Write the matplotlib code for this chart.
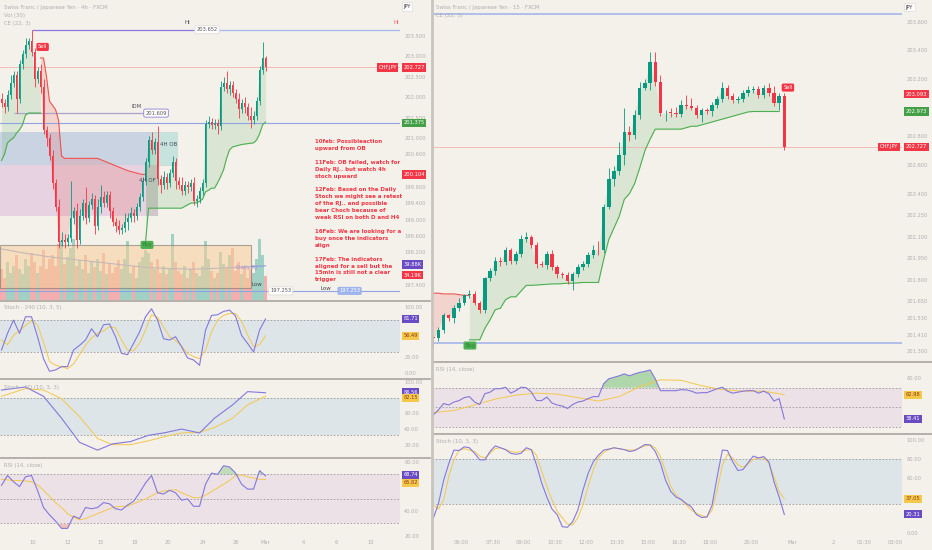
import numpy as np
import matplotlib
matplotlib.use("Agg")
import matplotlib.pyplot as plt
from matplotlib.patches import Rectangle
from matplotlib.lines import Line2D

# ---------------- data: left chart, CHFJPY 4h ----------------
l_first_open = 201.95
l_close = [201.85, 201.75, 202.05, 202.35, 202.55, 201.95, 202.80, 203.05, 203.28, 203.38,
           203.10, 202.45, 202.65, 202.25, 201.20, 201.00, 200.55, 199.90, 199.30, 198.45,
           198.50, 198.45, 198.55, 199.05, 199.20, 198.50, 199.10, 199.40, 199.05, 199.35,
           199.50, 198.85, 199.30, 199.55, 199.40, 199.60, 199.20, 198.95, 198.85, 198.75,
           198.80, 198.95, 199.05, 199.15, 199.10, 199.30, 199.55, 199.95, 200.40, 200.95,
           200.70, 200.90, 200.00, 199.85, 200.05, 199.90, 200.15, 200.40, 199.95, 199.85,
           199.70, 199.85, 199.80, 199.90, 199.45, 199.50, 199.70, 199.90, 201.35, 201.40,
           201.32, 201.36, 201.30, 202.25, 202.35, 202.20, 202.30, 202.10, 201.95, 201.70,
           201.85, 201.75, 201.55, 201.45, 201.55, 201.90, 202.67, 202.96, 202.73]
l_wick_up = [0.15, 0.10, 0.12, 0.20, 0.10, 0.10, 0.10, 0.10, 0.17, 0.07,
             0.27, 0.10, 0.10, 0.15, 0.20, 0.10, 0.10, 0.15, 0.10, 0.20,
             0.20, 0.15, 0.10, 0.90, 0.10, 0.20, 0.15, 0.10, 0.40, 0.10,
             0.15, 0.10, 0.20, 0.30, 0.15, 0.10, 0.10, 0.10, 0.10, 0.15,
             0.10, 0.20, 0.10, 0.15, 0.10, 0.10, 0.10, 0.10, 0.10, 0.10,
             0.20, 0.10, 0.40, 0.10, 0.15, 0.10, 0.10, 0.15, 0.10, 0.10,
             0.20, 0.10, 0.10, 0.10, 0.15, 0.10, 0.10, 0.10, 0.10, 0.15,
             0.10, 0.10, 0.10, 0.15, 0.15, 0.30, 0.10, 0.10, 0.10, 0.15,
             0.10, 0.15, 0.10, 0.20, 0.10, 0.10, 0.10, 0.40, 0.05]
l_wick_dn = [0.10, 0.15, 0.10, 0.10, 0.10, 0.34, 0.10, 0.10, 0.10, 0.10,
             0.10, 0.20, 0.10, 0.15, 0.10, 0.20, 0.10, 0.15, 0.10, 0.15,
             0.10, 0.15, 0.10, 0.10, 0.15, 0.20, 0.10, 0.10, 0.15, 0.10,
             0.10, 0.20, 0.10, 0.15, 0.10, 0.10, 0.15, 0.10, 0.15, 0.10,
             0.10, 0.10, 0.20, 0.10, 0.15, 0.10, 0.10, 0.10, 0.10, 0.10,
             0.10, 0.10, 0.15, 0.20, 0.10, 0.15, 0.10, 0.10, 0.20, 0.10,
             0.10, 0.10, 0.15, 0.10, 0.10, 0.15, 0.10, 0.10, 0.10, 0.10,
             0.10, 0.10, 0.20, 0.10, 0.10, 0.10, 0.15, 0.10, 0.10, 0.20,
             0.10, 0.15, 0.10, 0.20, 0.10, 0.10, 0.10, 0.10, 0.10]
l_volume = [38, 33, 42, 36, 40, 46, 38, 35, 44, 40,
            47, 42, 36, 40, 49, 38, 44, 46, 40, 52,
            54, 41, 45, 50, 55, 40, 43, 38, 46, 36,
            42, 39, 44, 37, 47, 35, 41, 36, 39, 43,
            38, 44, 54, 36, 40, 33, 42, 45, 49, 47,
            42, 38, 44, 36, 40, 35, 38, 58, 42, 37,
            35, 40, 33, 38, 42, 36, 34, 40, 54, 44,
            37, 33, 36, 48, 41, 39, 46, 50, 37, 42,
            35, 40, 33, 38, 36, 44, 55, 46, 34.19]
l_volma_x = [0, 8, 16, 24, 32, 40, 48, 56, 64, 72, 80, 88]
l_volma = [49.5, 47, 45, 43.5, 42, 40.5, 39, 38.3, 38, 38.5, 39.2, 39.88]

# chandelier exit stops
l_long1 = [200.45, 200.6, 200.88, 200.95, 201.0, 201.12, 201.2, 201.32, 201.56, 201.61,
           201.61, 201.61, 201.61, 201.61]                         # bars 0..13
l_short = [202.96, 202.96, 202.5, 201.9, 201.8, 201.7, 201.44, 200.56, 200.5,
           200.5, 200.5, 200.5, 200.5, 200.5, 200.5, 200.5, 200.5, 200.5, 200.5, 200.5,
           200.47, 200.44, 200.41, 200.38, 200.35, 200.32, 200.29, 200.26, 200.23, 200.2,
           200.18, 200.16, 200.14, 200.12, 200.11, 200.10]           # bars 13..48
l_long2 = [198.45, 199.28, 199.28, 199.28, 199.28, 199.28, 199.28, 199.28, 199.28, 199.28,
           199.28, 199.28, 199.28, 199.32, 199.36, 199.4, 199.41, 199.41, 199.45, 199.5,
           199.68, 199.72, 199.77, 199.77, 199.9, 200.05, 200.22, 200.5, 200.71, 200.78,
           200.8, 200.82, 200.84, 200.85, 200.86, 200.87, 200.88, 200.95, 201.1, 201.32,
           201.39]                                                   # bars 48..88

# indicators, sampled every 2 bars
l_ind_x = list(range(0, 89, 2))
l_stoch4h_k = [35, 60, 80, 60, 85, 85, 55, 22, 3, 5, 10, 10, 35, 42, 50, 67, 55, 73, 74, 55,
               30, 28, 45, 62, 85, 97, 80, 52, 50, 55, 40, 23, 20, 12, 65, 87, 88, 93, 95, 86,
               57, 45, 32, 65, 81.71]
l_stoch4h_d = [50, 43, 57, 64, 72, 79, 73, 47, 18, 12, 10, 7, 14, 28, 42, 53, 60, 64, 70, 68,
               50, 35, 34, 45, 65, 88, 84, 70, 55, 49, 41, 30, 25, 22, 35, 62, 80, 87, 90, 90,
               78, 58, 40, 43, 56.49]
l_rsi = [61, 69, 64, 60, 68, 69, 57, 43, 37, 32, 26, 26, 36, 34, 43, 42, 43, 47, 46, 42,
         41, 45, 48, 55, 63, 69, 55, 54, 57, 55, 49, 50, 44, 44, 62, 71, 70, 77, 76, 71,
         62, 58, 58, 73, 68.74]
l_rsi_ma = [66, 65.5, 65, 65, 64.6, 64, 61.5, 57, 52, 47, 43, 38, 35, 33, 34, 36, 38, 40, 42, 43.5,
            44, 44, 46, 48, 50, 52.5, 55, 56.5, 57, 57.5, 55, 53, 51, 51, 53, 56, 59, 62, 65, 69,
            69.5, 68, 67, 66, 65.82]
# daily stoch, one point per day
l_day_x = [0, 8, 14, 20, 26, 32, 37, 43, 49, 54, 60, 66, 71, 77, 82, 88]
l_stoch1d_k = [90, 94, 82, 54, 23, 13, 21, 24, 32, 35, 40, 35, 54, 71, 88, 86.56]
l_stoch1d_d = [82, 92, 90, 79, 56, 28, 20, 20, 25, 30, 35, 36, 42, 54, 71, 82.15]

l_xtick_pos = [10.5, 22, 33, 44.5, 55.5, 67, 78, 88, 100.5, 111.5, 123]
l_xtick_lab = ["10", "12", "15", "18", "20", "24", "26", "Mar", "4", "6", "10"]
l_yticks = [197.4, 198.2, 198.6, 199.0, 199.4, 199.8, 200.6, 201.0,
            201.5, 202.0, 202.5, 203.0, 203.5]

# ---------------- data: right chart, CHFJPY 15m ----------------
r_first_open = 201.40
r_close = [201.39, 201.45, 201.55, 201.53, 201.60, 201.64, 201.69, 201.70, 201.64, 201.59,
           201.81, 201.86, 201.93, 201.925, 202.01, 201.93, 201.98, 202.08, 202.10, 202.04,
           201.91, 201.905, 201.98, 201.89, 201.84, 201.83, 201.79, 201.84, 201.89, 201.91,
           201.97, 202.01, 202.005, 202.31, 202.50, 202.56, 202.67, 202.83, 202.81, 202.95,
           203.14, 203.17, 203.32, 203.18, 202.96, 202.965, 202.962, 202.958, 203.02, 203.01,
           203.00, 202.95, 202.98, 202.975, 203.02, 203.06, 203.14, 203.08, 203.05, 203.06,
           203.10, 203.12, 203.13, 203.09, 203.14, 203.10, 203.03, 203.08, 202.727]
r_wick_up = [0.01, 0.02, 0.02, 0.01, 0.02, 0.03, 0.01, 0.03, 0.02, 0.01,
             0.01, 0.02, 0.03, 0.03, 0.02, 0.01, 0.02, 0.03, 0.03, 0.01,
             0.02, 0.02, 0.02, 0.03, 0.01, 0.01, 0.02, 0.01, 0.02, 0.02,
             0.02, 0.03, 0.06, 0.02, 0.08, 0.03, 0.09, 0.17, 0.04, 0.03,
             0.04, 0.03, 0.07, 0.07, 0.05, 0.02, 0.03, 0.04, 0.03, 0.07,
             0.06, 0.02, 0.02, 0.02, 0.02, 0.02, 0.04, 0.02, 0.02, 0.02,
             0.02, 0.03, 0.02, 0.02, 0.02, 0.03, 0.05, 0.02, 0.02]
r_wick_dn = [0.06, 0.02, 0.02, 0.02, 0.03, 0.02, 0.02, 0.02, 0.02, 0.02,
             0.02, 0.02, 0.03, 0.03, 0.02, 0.02, 0.02, 0.02, 0.02, 0.02,
             0.03, 0.02, 0.03, 0.02, 0.03, 0.02, 0.02, 0.06, 0.02, 0.02,
             0.02, 0.02, 0.03, 0.02, 0.02, 0.05, 0.03, 0.07, 0.04, 0.03,
             0.03, 0.02, 0.05, 0.03, 0.02, 0.05, 0.03, 0.02, 0.02, 0.02,
             0.02, 0.02, 0.05, 0.02, 0.03, 0.02, 0.02, 0.02, 0.02, 0.02,
             0.02, 0.02, 0.02, 0.02, 0.02, 0.02, 0.02, 0.05, 0.02]
r_short = [201.705, 201.705, 201.70, 201.70, 201.70, 201.695, 201.69, 201.69]   # bars 0..7
r_long = [201.38, 201.38, 201.38, 201.46, 201.52, 201.59, 201.60, 201.66, 201.68, 201.68,
          201.72, 201.76, 201.76, 201.762, 201.765, 201.767, 201.77, 201.77, 201.772, 201.775,
          201.775, 201.777, 201.78, 201.78, 201.78, 201.78, 201.94, 202.08, 202.16, 202.24,
          202.36, 202.40, 202.47, 202.58, 202.70, 202.78, 202.85, 202.85, 202.85, 202.85,
          202.85, 202.85, 202.86, 202.87, 202.87, 202.88, 202.89, 202.90, 202.91, 202.92,
          202.93, 202.94, 202.95, 202.96, 202.97, 202.973, 202.973, 202.973, 202.973, 202.973,
          202.973]                                                   # bars 7..67
r_rsi = [42.5, 47.5, 54, 52.5, 55.5, 57, 60, 61, 55.5, 53, 64, 65.5, 69, 69, 70.5, 64.5, 67,
         70.5, 70, 65.5, 57, 57, 60.5, 54.5, 52.5, 51.5, 49, 53, 55.5, 56.5, 59, 61, 61, 74, 79,
         80.5, 82, 84, 82, 84, 85.5, 86.5, 88, 79, 67, 67, 67, 67, 68, 67.8, 66.5, 64.5, 65, 65,
         67, 69, 70.5, 66.5, 64.5, 65.5, 66.5, 67, 67, 64.5, 66.5, 64, 56.5, 59, 38.41]
r_rsi_ma_x = list(range(0, 69, 4))
r_rsi_ma = [44.8, 47, 52.5, 58.5, 62.5, 64.5, 63.5, 60, 56.5, 61, 71, 78, 77.5, 72, 68, 66.5,
            66.5, 62.98]
r_stoch_k = [16, 32, 57, 75, 89.5, 89, 93, 92, 86, 79, 79, 88, 94, 92, 90, 86, 85, 86, 92, 90,
             73.5, 54, 39, 26, 20, 7, 6.5, 12.5, 25, 46.5, 64.5, 77, 84, 89.5, 90.5, 92, 91, 90,
             88, 89, 92, 95.5, 95, 88, 75.5, 57, 45, 39, 36.5, 32, 28.5, 20, 17, 17.5, 30, 61,
             89.5, 89, 77, 67.5, 68.5, 76, 83, 81, 82.5, 77, 55.5, 39, 20.31]
r_stoch_d = [30.5, 26, 36, 61, 79, 89.5, 91, 89.5, 88, 83, 81, 86, 91, 92, 90, 88, 87, 88, 89.5,
             90, 84, 66.5, 50.5, 36, 23.5, 16.5, 10, 9, 16.5, 30.5, 50.5, 68.5, 81, 87, 90, 92,
             91, 90, 89.5, 89.5, 92, 94, 95, 92, 82.5, 66.5, 50.5, 41.5, 36, 30.5, 25, 21.5, 19,
             17.5, 25, 46.5, 73.5, 85, 81, 73.5, 71, 74.5, 79.5, 81, 81, 75.5, 61, 45, 37.05]
r_xtick_pos = [5.5, 11.5, 17.5, 23.5, 29.5, 35.5, 41.5, 47.5, 53.5, 61.5, 69.5, 77.5, 83.5, 89.5]
r_xtick_lab = ["06:00", "07:30", "09:00", "10:30", "12:00", "13:30", "15:00", "16:30",
               "18:00", "20:00", "Mar", "2", "01:30", "03:00"]
r_yticks = [201.30, 201.41, 201.53, 201.65, 201.80, 201.95, 202.10, 202.25, 202.40, 202.60,
            202.80, 203.20, 203.40, 203.60]

# key levels
HI = 203.652
IDM = 201.609
LOW = 197.253
BOS = 201.375
LAST = 202.727

notes = ("10feb: Possibleaction\nupward from OB\n\n"
         "11Feb: OB failed, watch for\nDaily RJ.. but watch 4h\nstoch upward\n\n"
         "12Feb: Based on the Daily\nStoch we might see a retest\nof the RJ.. and possible\n"
         "bear Choch because of\nweak RSI on both D and H4\n\n"
         "16Feb: We are looking for a\nbuy once the indicators\nalign\n\n"
         "17Feb: The indicators\naligned for a sell but the\n15min is still not a clear\ntrigger")

# ---------------- style ----------------
W, H = 932, 550
BG = "#f4f0ea"
UP = "#089981"
DN = "#f23645"
K_COL = "#8478dc"
D_COL = "#f5c84a"
TXT = "#b0b0b0"
FS = 3.7

fig = plt.figure(figsize=(W / 100, H / 100), dpi=100)
fig.patch.set_facecolor(BG)


def pane(x0, y0, x1, y1):
    ax = fig.add_axes([x0 / W, 1 - y1 / H, (x1 - x0) / W, (y1 - y0) / H])
    ax.set_facecolor(BG)
    for s in ax.spines.values():
        s.set_visible(False)
    ax.yaxis.tick_right()
    ax.tick_params(axis="y", length=0, pad=3, labelsize=FS, labelcolor=TXT)
    ax.tick_params(axis="x", length=0, pad=2, labelsize=FS, labelcolor=TXT)
    ax.set_xticks([])
    return ax


def ftext(x, y, s, **kw):
    kw.setdefault("fontsize", 3.9)
    kw.setdefault("color", TXT)
    fig.text(x / W, 1 - y / H, s, va="center", **kw)


def tag(ax, y, text, fc, tc="white", x=1.008, ec="none", ha="left"):
    ax.text(x, y, text, transform=ax.get_yaxis_transform(), ha=ha, va="center",
            fontsize=FS, color=tc, zorder=30, clip_on=False,
            bbox=dict(boxstyle="square,pad=0.3", fc=fc, ec=ec, lw=0.5))


def label(ax, x, y, text, fc, tc="white", ec="none", fs=FS):
    ax.text(x, y, text, ha="center", va="center", fontsize=fs, color=tc, zorder=30,
            bbox=dict(boxstyle="round,pad=0.3,rounding_size=0.3", fc=fc, ec=ec, lw=0.6))


def candles(ax, first_open, closes, wup, wdn, width, min_body):
    c = np.array(closes)
    o = np.r_[first_open, c[:-1]]
    x = np.arange(len(c))
    top, bot = np.maximum(o, c), np.minimum(o, c)
    cols = np.where(c >= o, UP, DN)
    ax.vlines(x, bot - np.array(wdn), top + np.array(wup), colors=cols, lw=0.6, zorder=6)
    ax.bar(x, np.maximum(top - bot, min_body), width, bottom=bot, color=cols, lw=0, zorder=7)
    return cols


def osc_bands(ax, lo, hi, color, mid=None):
    ax.axhspan(lo, hi, color=color, lw=0, zorder=0)
    for v in [lo, hi] + ([mid] if mid else []):
        ax.axhline(v, color="#9b9b9b", lw=0.6, ls=(0, (2, 2)), zorder=1)


def yfmt(ax, ticks, fmt):
    ax.set_yticks(ticks)
    ax.set_yticklabels([fmt % t for t in ticks])


# ================= LEFT CHART =================
L_XLIM = (-0.5, 132.8)
xl = np.arange(len(l_close))

axv = pane(0, 0, 400, 300)
axv.set_xlim(*L_XLIM)
axv.set_ylim(20.5, 190.7)
axv.set_yticks([])
vcols = [UP if c >= o else DN for c, o in zip(l_close, [l_first_open] + l_close[:-1])]
axv.bar(xl, l_volume, 0.75, color=vcols, alpha=0.35, lw=0)
axv.plot(l_volma_x, l_volma, color="#8f9be0", lw=0.8)

ax = pane(0, 0, 400, 300)
ax.patch.set_visible(False)
ax.set_xlim(*L_XLIM)
ax.set_ylim(197.03, 204.38)
yfmt(ax, l_yticks, "%.3f")

# zones
ax.add_patch(Rectangle((-0.5, 200.34), 52.5, 0.81, fc="#c6d0e0", ec="none", alpha=0.9, zorder=1))
ax.add_patch(Rectangle((-0.5, 199.09), 52.5, 1.25, fc="#e5cfe0", ec="none", alpha=0.9, zorder=1))
ax.add_patch(Rectangle((48, 199.09), 4, 1.25, fc="#cdc6c8", ec="none", alpha=0.9, zorder=1.1))
ax.add_patch(Rectangle((49.5, 200.34), 9, 0.81, fc="#c6e4dd", ec="#b9d6cf", lw=0.4, zorder=1))
ax.add_patch(Rectangle((-0.5, 197.32), 83.5, 1.06, fc="#f6cf98", ec="#6f6a66", lw=0.8,
                       alpha=0.55, zorder=1))
ax.text(158 / 3, 200.8, "4H OB", fontsize=FS + 0.3, color="#3f4a5a", zorder=8)
ax.text(137 / 3, 199.93, "4H OF", fontsize=FS + 0.3, color="#3f4a5a", zorder=8)
ax.text(78, 197.8, "Daily RJ", fontsize=FS + 0.3, color="#a58fe0", zorder=8)

# chandelier exit
cl = np.array(l_close)
x1 = np.arange(0, 14)
ax.plot(x1, l_long1, color="#4caf50", lw=0.8, zorder=5)
ax.fill_between(x1, l_long1, cl[x1], color="#4caf50", alpha=0.15, lw=0, zorder=2)
x2 = np.arange(13, 49)
ax.plot(x2, l_short, color="#ef5350", lw=0.8, zorder=5)
ax.fill_between(x2, l_short, cl[x2], color="#ef5350", alpha=0.18, lw=0, zorder=2)
x3 = np.arange(48, 89)
ax.plot(x3, l_long2, color="#4caf50", lw=0.8, zorder=5)
ax.fill_between(x3, l_long2, cl[x3], color="#4caf50", alpha=0.15, lw=0, zorder=2)

candles(ax, l_first_open, l_close, l_wick_up, l_wick_dn, 0.62, 0.02)

# levels
ax.hlines(HI, 10, 64, color="#8a7be0", lw=0.9, zorder=4)
ax.hlines(HI, 64, L_XLIM[1], color="#a4b6ea", lw=0.9, zorder=4)
ax.text(62, HI + 0.15, "Hi", fontsize=FS + 0.4, color="#555555", ha="center", zorder=8)
ax.text(131.5, HI + 0.15, "Hi", fontsize=FS + 0.4, color="#f06070", ha="center", zorder=8)
label(ax, 68.5, HI, "203.652", "white", tc="#555555", ec="#e0ddd8")
ax.hlines(IDM, 4.3, 47.5, color="#a9a3cc", lw=0.9, zorder=4)
ax.text(45, IDM + 0.12, "IDM", fontsize=FS + 0.2, color="#555555", ha="center", zorder=8)
label(ax, 51.5, IDM, "201.609", "white", tc="#555555", ec="#8b7fd6")
ax.axhline(BOS, color="#8fa5e3", lw=0.8, zorder=4)
ax.axhline(LAST, color="#f2a7a7", lw=0.5, zorder=4)
ax.axhline(LOW, color="#8fa5e3", lw=0.8, zorder=4)
ax.text(85, LOW + 0.13, "Low", fontsize=FS + 0.3, color="#444444", ha="center", zorder=8)
ax.text(108, LOW + 0.07, "Low", fontsize=FS + 0.3, color="#444444", ha="center", va="center",
        zorder=8)
label(ax, 93, LOW, "197.253", "white", tc="#555555", ec="#e0ddd8")
label(ax, 116, LOW, "197.253", "#9db4ec")
label(ax, 13.7, 203.23, "Sell", DN)
label(ax, 48.5, 198.38, "Buy", "#4caf50", tc="#2f7d32")

tag(ax, 204.22, "JPY", "white", tc="#333333", ec="#dddddd")
tag(ax, LAST, "CHF.JPY", DN, x=0.992, ha="right")
tag(ax, LAST, "202.727", DN)
tag(ax, BOS, "201.375", "#43a047")
tag(ax, 200.104, "200.104", DN)
tag(ax, 197.90, "39.88K", "#6a4bc4")
tag(ax, 197.64, "34.19K", DN)

# stoch 4h
a1 = pane(0, 301, 400, 378)
a1.set_xlim(*L_XLIM)
a1.set_ylim(-7.1, 108.7)
osc_bands(a1, 32, 80, "#dde5e8")
a1.plot(l_ind_x, l_stoch4h_d, color=D_COL, lw=0.7, zorder=3)
a1.plot(l_ind_x, l_stoch4h_k, color=K_COL, lw=0.8, zorder=4)
yfmt(a1, [0, 25, 100], "%.2f")
tag(a1, 81.71, "81.71", "#6a4bc4")
tag(a1, 56.49, "56.49", D_COL, tc="#8a3b1e")

# stoch daily
a2 = pane(0, 379, 400, 457)
a2.set_xlim(*L_XLIM)
a2.set_ylim(4.2, 104.2)
osc_bands(a2, 32, 80, "#dde5e8")
a2.plot(l_day_x, l_stoch1d_d, color=D_COL, lw=0.7, zorder=3)
a2.plot(l_day_x, l_stoch1d_k, color=K_COL, lw=0.8, zorder=4)
yfmt(a2, [20, 40, 60, 100], "%.2f")
tag(a2, 87.5, "86.56", "#6a4bc4")
tag(a2, 80.0, "82.15", D_COL, tc="#8a3b1e")

# rsi 4h
a3 = pane(0, 458, 400, 537)
a3.set_xlim(*L_XLIM)
a3.set_ylim(19.0, 83.3)
osc_bands(a3, 30, 70, "#ebe1e6", mid=50)
rs = np.array(l_rsi)
a3.fill_between(l_ind_x, rs, 70, where=rs > 70, interpolate=True, color="#4caf50", alpha=0.3, lw=0)
a3.fill_between(l_ind_x, rs, 30, where=rs < 30, interpolate=True, color="#ef5350", alpha=0.3, lw=0)
a3.plot(l_ind_x, l_rsi_ma, color=D_COL, lw=0.7, zorder=3)
a3.plot(l_ind_x, l_rsi, color=K_COL, lw=0.8, zorder=4)
yfmt(a3, [20, 40, 80], "%.2f")
a3.set_xticks(l_xtick_pos)
a3.set_xticklabels(l_xtick_lab)
tag(a3, 69.8, "68.74", "#6a4bc4")
tag(a3, 63.0, "65.82", D_COL, tc="#8a3b1e")

ftext(4, 8, "Swiss Franc / Japanese Yen · 4h · FXCM")
ftext(4, 16, "Vol (30)")
ftext(4, 24, "CE (22, 3)")
ftext(4, 308, "Stoch - 240 (10, 3, 5)")
ftext(4, 387, "Stoch - 1D (10, 3, 3)")
ftext(4, 465, "RSI (14, close)")
fig.text(315 / W, 1 - 139 / H, notes, va="top", ha="left", fontsize=3.95, fontweight="bold",
         color="#f23645", linespacing=1.48)

# ================= RIGHT CHART =================
R_XLIM = (-0.25, 90.8)
rc = np.array(r_close)

b0 = pane(432, 0, 902, 361)
b0.set_xlim(*R_XLIM)
b0.set_ylim(201.232, 203.751)
yfmt(b0, r_yticks, "%.3f")
b0.axhline(HI, color="#a4b6ea", lw=1.2, zorder=4)
b0.axhline(201.36, color="#a4b6ea", lw=1.2, zorder=4)
b0.axhline(LAST, color="#f2a7a7", lw=0.5, zorder=4)

y1 = np.arange(0, 8)
b0.plot(y1, r_short, color="#ef5350", lw=0.8, zorder=5)
b0.fill_between(y1, r_short, rc[y1], color="#ef5350", alpha=0.18, lw=0, zorder=2)
y2 = np.arange(7, 68)
b0.plot(y2, r_long, color="#4caf50", lw=0.8, zorder=5)
b0.fill_between(y2, r_long, rc[y2], color="#4caf50", alpha=0.15, lw=0, zorder=2)
candles(b0, r_first_open, r_close, r_wick_up, r_wick_dn, 0.66, 0.004)
label(b0, 7.1, 201.34, "Buy", "#4caf50", tc="#2f7d32")
label(b0, 68.7, 203.14, "Sell", DN)

tag(b0, 203.70, "JPY", "white", tc="#333333", ec="#dddddd")
tag(b0, 203.093, "203.093", DN)
tag(b0, 202.973, "202.973", "#43a047")
tag(b0, LAST, "CHF.JPY", DN, x=0.992, ha="right")
tag(b0, LAST, "202.727", DN)

b1 = pane(432, 362, 902, 433)
b1.set_xlim(*R_XLIM)
b1.set_ylim(24.2, 96)
osc_bands(b1, 30, 70, "#ebe1e6", mid=50)
rr = np.array(r_rsi)
xr = np.arange(len(rr))
b1.fill_between(xr, rr, 70, where=rr > 70, interpolate=True, color="#4caf50", alpha=0.4, lw=0)
b1.plot(r_rsi_ma_x, r_rsi_ma, color=D_COL, lw=0.7, zorder=3)
b1.plot(xr, rr, color=K_COL, lw=0.8, zorder=4)
yfmt(b1, [80], "%.2f")
tag(b1, 62.98, "62.98", D_COL, tc="#8a3b1e")
tag(b1, 38.41, "38.41", "#6a4bc4")

b2 = pane(432, 434, 902, 537)
b2.set_xlim(*R_XLIM)
b2.set_ylim(-4, 106.8)
osc_bands(b2, 32, 80, "#dde5e8")
b2.plot(xr, r_stoch_d, color=D_COL, lw=0.7, zorder=3)
b2.plot(xr, r_stoch_k, color=K_COL, lw=0.8, zorder=4)
yfmt(b2, [0, 60, 80, 100], "%.2f")
b2.set_xticks(r_xtick_pos)
b2.set_xticklabels(r_xtick_lab)
tag(b2, 37.05, "37.05", D_COL, tc="#8a3b1e")
tag(b2, 20.31, "20.31", "#6a4bc4")

ftext(436, 8, "Swiss Franc / Japanese Yen · 15 · FXCM")
ftext(436, 16, "CE (22, 3)")
ftext(436, 370, "RSI (14, close)")
ftext(436, 442, "Stoch (10, 3, 3)")

# pane separators
for y, xa, xb in [(300.5, 0, 430), (378.5, 0, 430), (457.5, 0, 430),
                  (361.5, 433, 932), (433.5, 433, 932)]:
    fig.add_artist(Line2D([xa / W, xb / W], [1 - y / H] * 2, color="#aaa59e", lw=1.2))
fig.add_artist(Line2D([431.5 / W] * 2, [0, 1], color="#c9c4bc", lw=2))

fig.savefig("out.png", dpi=100, facecolor=BG)
